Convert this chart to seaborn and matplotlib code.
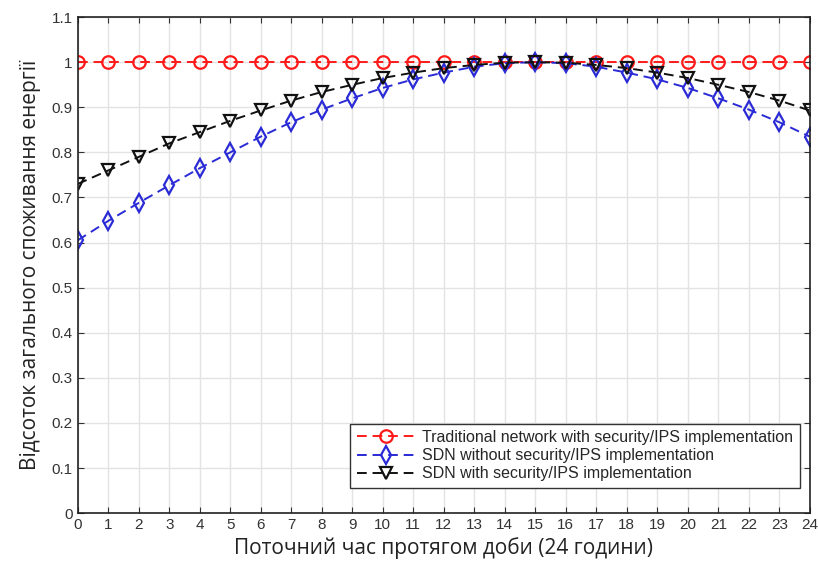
import numpy as np
import pandas as pd
import matplotlib.pyplot as plt
import seaborn as sns

hours = list(range(25))
traditional = [1.0] * 25
sdn_no_ips = [0.605, 0.648, 0.688, 0.727, 0.765, 0.800, 0.835, 0.867, 0.895, 0.920,
              0.943, 0.962, 0.977, 0.990, 0.998, 1.000, 0.998, 0.990, 0.977, 0.962,
              0.943, 0.920, 0.895, 0.867, 0.835]
sdn_ips = [0.730, 0.760, 0.790, 0.820, 0.845, 0.870, 0.893, 0.915, 0.934, 0.950,
           0.965, 0.977, 0.987, 0.994, 0.999, 1.000, 0.999, 0.994, 0.987, 0.977,
           0.965, 0.950, 0.934, 0.915, 0.893]
labels = ['Traditional network with security/IPS implementation',
          'SDN without security/IPS implementation',
          'SDN with security/IPS implementation']

sns.set_style("whitegrid")
plt.rcParams['font.family'] = ['Liberation Sans', 'DejaVu Sans']

fig = plt.figure(figsize=(8.18, 5.72), dpi=100)
ax = fig.add_axes([0.095, 0.103, 0.895, 0.867])

series = [(traditional, '#ff1a1a', 'o'), (sdn_no_ips, '#2a2ad6', 'd'), (sdn_ips, '#111111', 'v')]
for (vals, col, mk), lab in zip(series, labels):
    sns.lineplot(x=hours, y=vals, ax=ax, color=col, marker=mk, markersize=9,
                 markerfacecolor='none', markeredgecolor=col, markeredgewidth=1.6,
                 linestyle=(0, (5, 3)), linewidth=1.4, label=lab)

ax.set_xlim(0, 24)
ax.set_ylim(0, 1.1)
ax.set_xticks(hours)
ax.set_yticks(np.arange(0, 1.11, 0.1))
ax.set_yticklabels(['0', '0.1', '0.2', '0.3', '0.4', '0.5', '0.6', '0.7', '0.8', '0.9', '1', '1.1'])
ax.tick_params(axis='both', labelsize=11, colors='#333333', direction='in', length=4,
               left=True, bottom=True, right=True, top=True)
ax.grid(True, color='#e3e3e3', linewidth=1.0)
for s in ax.spines.values():
    s.set_color('#222222')
    s.set_linewidth(1.2)

ax.set_xlabel('Поточний час протягом доби (24 години)', fontsize=15, family=['Open Sans', 'DejaVu Sans'],
              color='#222222', labelpad=4)
ax.set_ylabel('Відсоток загального споживання енергії', fontsize=15, family=['Open Sans', 'DejaVu Sans'],
              color='#222222', labelpad=8)

leg = ax.legend(loc='lower right', bbox_to_anchor=(0.997, 0.035), fontsize=11.5, frameon=True,
                fancybox=False, edgecolor='#333333', framealpha=1, handlelength=3.6,
                borderpad=0.4, labelspacing=0.2, handletextpad=0.5)
leg.get_frame().set_linewidth(1.0)

fig.savefig('out.png', dpi=100)
